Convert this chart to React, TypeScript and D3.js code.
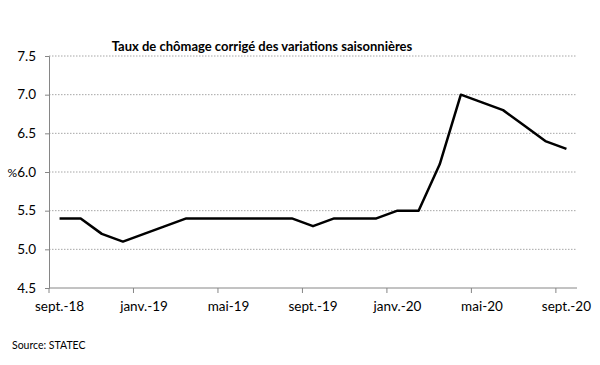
import React, { useEffect, useRef } from 'react';
import * as d3 from 'd3';

const months = [
  'sept.-18', 'oct.-18', 'nov.-18', 'déc.-18',
  'janv.-19', 'févr.-19', 'mars-19', 'avr.-19', 'mai-19', 'juin-19',
  'juil.-19', 'août-19', 'sept.-19', 'oct.-19', 'nov.-19', 'déc.-19',
  'janv.-20', 'févr.-20', 'mars-20', 'avr.-20', 'mai-20', 'juin-20',
  'juil.-20', 'août-20', 'sept.-20',
];
const rates = [
  5.4, 5.4, 5.2, 5.1, 5.2, 5.3, 5.4, 5.4, 5.4, 5.4, 5.4, 5.4, 5.3,
  5.4, 5.4, 5.4, 5.5, 5.5, 6.1, 7.0, 6.9, 6.8, 6.6, 6.4, 6.3,
];
const yTicks = [4.5, 5.0, 5.5, 6.0, 6.5, 7.0, 7.5];

const title = 'Taux de chômage corrigé des variations saisonnières';
const source = 'Source: STATEC';

const App = () => {
  const ref = useRef<SVGSVGElement>(null);

  useEffect(() => {
    const svg = d3.select(ref.current);
    svg.selectAll('*').remove();
    const font = 'Lato, "Open Sans", sans-serif';
    const left = 49, right = 577, top = 56, bottom = 288;

    const x = d3.scaleBand().domain(months).range([left, right]);
    const y = d3.scaleLinear().domain([4.5, 7.5]).range([bottom, top]);

    // grid
    svg.append('g')
      .selectAll('line')
      .data(yTicks.slice(1))
      .enter()
      .append('line')
      .attr('x1', left)
      .attr('x2', right)
      .attr('y1', d => y(d))
      .attr('y2', d => y(d))
      .attr('stroke', '#a6a6a6')
      .attr('stroke-width', 1)
      .attr('stroke-dasharray', '1.5,1.5');

    // y axis
    const yAxis = svg.append('g')
      .attr('transform', `translate(${left},0)`)
      .call(d3.axisLeft(y).tickValues(yTicks).tickFormat(d3.format('.1f')).tickSize(4).tickPadding(9));
    yAxis.select('.domain').attr('stroke', '#868686');
    yAxis.selectAll('.tick line').attr('stroke', '#868686');
    yAxis.selectAll('text')
      .attr('font-family', font)
      .attr('font-size', 13.5)
      .attr('fill', '#000');

    // x axis
    const xAxis = svg.append('g').attr('transform', `translate(0,${bottom})`);
    xAxis.append('line')
      .attr('x1', left).attr('x2', right)
      .attr('stroke', '#868686');
    const shown = months.filter((_, i) => i % 4 === 0);
    xAxis.selectAll('.tk')
      .data(shown)
      .enter()
      .append('line')
      .attr('x1', d => x(d)!)
      .attr('x2', d => x(d)!)
      .attr('y1', 0)
      .attr('y2', 5)
      .attr('stroke', '#868686');
    xAxis.selectAll('text')
      .data(shown)
      .enter()
      .append('text')
      .attr('x', d => x(d)! + x.bandwidth() / 2)
      .attr('y', 23)
      .attr('text-anchor', 'middle')
      .attr('font-family', font)
      .attr('font-size', 13.5)
      .text(d => d);

    // line
    const line = d3.line<number>()
      .x((_, i) => x(months[i])! + x.bandwidth() / 2)
      .y(d => y(d));
    svg.append('path')
      .datum(rates)
      .attr('d', line)
      .attr('fill', 'none')
      .attr('stroke', '#000')
      .attr('stroke-width', 2.5)
      .attr('stroke-linejoin', 'round');

    svg.append('text')
      .attr('x', 17)
      .attr('y', y(6.0) + 5)
      .attr('text-anchor', 'end')
      .attr('font-family', font)
      .attr('font-size', 12)
      .text('%');

    svg.append('text')
      .attr('x', 262)
      .attr('y', 51)
      .attr('text-anchor', 'middle')
      .attr('font-family', font)
      .attr('font-weight', 'bold')
      .attr('font-size', 13)
      .text(title);

    svg.append('text')
      .attr('x', 12)
      .attr('y', 349)
      .attr('font-family', font)
      .attr('font-size', 10.5)
      .text(source);
  }, []);

  return (
    <svg ref={ref} width={600} height={365}
      style={{ position: 'absolute', left: 0, top: 0, background: '#fff' }} />
  );
};

export default App;
